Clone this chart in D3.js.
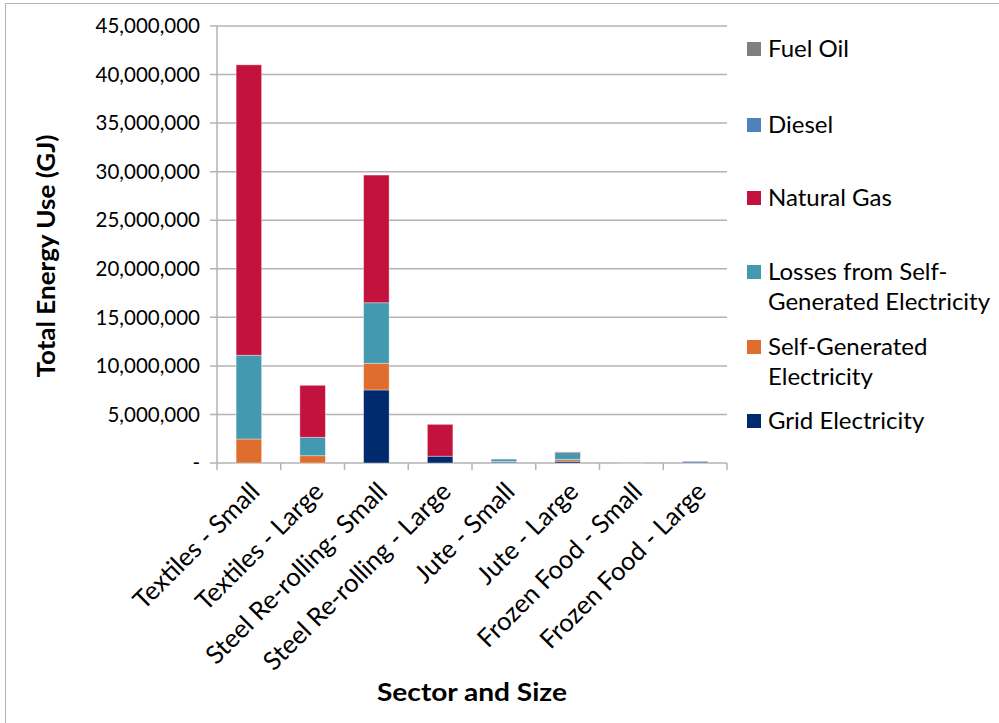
<!DOCTYPE html>
<html>
<head>
<meta charset="utf-8">
<script src="https://cdn.jsdelivr.net/npm/d3@7"></script>
<style>
  html, body { margin: 0; padding: 0; background: #fff; }
  svg { display: block; }
  text { font-family: Lato, "Open Sans", sans-serif; fill: #000; }
</style>
</head>
<body>
<svg id="chart" width="999" height="723"></svg>
<script>
// Categories along the x axis
const categories = [
  "Textiles - Small", "Textiles - Large", "Steel Re-rolling- Small", "Steel Re-rolling - Large",
  "Jute - Small", "Jute - Large", "Frozen Food - Small", "Frozen Food - Large"
];

// Energy use by source (GJ), stacked bottom to top
const gridElectricity   = [0,       0,       7520000, 700000,  100000, 180000, 50000, 100000];
const selfGenerated     = [2470000, 750000,  2750000, 0,       50000,  200000, 0,     0];
const selfGenLosses     = [8630000, 1900000, 6230000, 0,       250000, 700000, 0,     0];
const naturalGas        = [29900000,5350000, 13150000,3280000, 0,      60000,  0,     0];
const diesel            = [0,       0,       0,       0,       0,      0,      20000, 80000];
const fuelOil           = [0,       0,       0,       0,       0,      0,      0,     0];

const seriesNames  = ["Grid Electricity", "Self-Generated Electricity", "Losses from Self-Generated Electricity", "Natural Gas", "Diesel", "Fuel Oil"];
const seriesValues = [gridElectricity, selfGenerated, selfGenLosses, naturalGas, diesel, fuelOil];
const seriesColors = ["#002a6e", "#df6d2e", "#4299b0", "#c3123d", "#4f81bd", "#7f7f7f"];

const yTicks = [0, 5000000, 10000000, 15000000, 20000000, 25000000, 30000000, 35000000, 40000000, 45000000];

const svg = d3.select("#chart");

// outer chart border
svg.append("rect")
  .attr("x", 5.5).attr("y", 3.5).attr("width", 1000).attr("height", 730)
  .attr("fill", "none").attr("stroke", "#b4b4b4").attr("stroke-width", 1);

const plot = { left: 217, right: 727, top: 26, bottom: 463 };

const x = d3.scaleBand().domain(categories).range([plot.left, plot.right]).paddingInner(0.6).paddingOuter(0.3);
const xOuter = d3.scaleBand().domain(categories).range([plot.left, plot.right]);
const y = d3.scaleLinear().domain([0, 45000000]).range([plot.bottom, plot.top]);

// horizontal gridlines
svg.append("g").selectAll("line").data(yTicks).join("line")
  .attr("x1", plot.left - 7).attr("x2", plot.right)
  .attr("y1", d => y(d)).attr("y2", d => y(d))
  .attr("stroke", "#b3b3b3").attr("stroke-width", 1.5);

// y axis line
svg.append("line")
  .attr("x1", plot.left).attr("x2", plot.left)
  .attr("y1", plot.top).attr("y2", plot.bottom)
  .attr("stroke", "#b3b3b3").attr("stroke-width", 1.5);

// category tick marks below the axis
const boundaries = categories.map(c => xOuter(c)).concat([plot.right]);
svg.append("g").selectAll("line").data(boundaries).join("line")
  .attr("x1", d => d).attr("x2", d => d)
  .attr("y1", plot.bottom).attr("y2", plot.bottom + 7)
  .attr("stroke", "#b3b3b3").attr("stroke-width", 1.5);

// y tick labels
const fmt = d3.format(",");
svg.append("g").selectAll("text").data(yTicks).join("text")
  .attr("x", 200).attr("y", d => y(d))
  .attr("dy", "0.35em")
  .attr("text-anchor", "end")
  .style("font-size", "20.5px")
  .text(d => d === 0 ? "-" : fmt(d));

// stacked bars
const rows = categories.map((c, i) => {
  const r = { category: c };
  seriesNames.forEach((s, j) => { r[s] = seriesValues[j][i]; });
  return r;
});
const stacked = d3.stack().keys(seriesNames)(rows);

svg.append("g").selectAll("g").data(stacked).join("g")
  .attr("fill", (d, i) => seriesColors[i])
  .selectAll("rect").data(d => d).join("rect")
  .attr("x", d => x(d.data.category))
  .attr("width", x.bandwidth())
  .attr("y", d => y(d[1]))
  .attr("height", d => Math.max(0, y(d[0]) - y(d[1])))
  .attr("stroke", "rgba(255,255,255,0.45)")
  .attr("stroke-width", 0.8);

// x category labels, rotated
svg.append("g").selectAll("text").data(categories).join("text")
  .attr("transform", c => `translate(${x(c) + x.bandwidth() / 2 + 6},${plot.bottom + 24}) rotate(-45)`)
  .attr("text-anchor", "end")
  .attr("dy", "0.35em")
  .style("font-size", "25.5px")
  .text(c => c);

// axis titles
svg.append("text")
  .attr("transform", `translate(55,256) rotate(-90)`)
  .attr("text-anchor", "middle")
  .attr("textLength", 243).attr("lengthAdjust", "spacingAndGlyphs")
  .style("font-size", "25px").style("font-weight", "bold")
  .text("Total Energy Use (GJ)");

svg.append("text")
  .attr("x", 472).attr("y", 701)
  .attr("text-anchor", "middle")
  .attr("textLength", 190).attr("lengthAdjust", "spacingAndGlyphs")
  .style("font-size", "25px").style("font-weight", "bold")
  .text("Sector and Size");

// legend, top entry is Fuel Oil
const legendItems = [
  { lines: ["Fuel Oil"], y: 49, color: seriesColors[5] },
  { lines: ["Diesel"], y: 125, color: seriesColors[4] },
  { lines: ["Natural Gas"], y: 198, color: seriesColors[3] },
  { lines: ["Losses from Self-", "Generated Electricity"], y: 272, color: seriesColors[2] },
  { lines: ["Self-Generated", "Electricity"], y: 347, color: seriesColors[1] },
  { lines: ["Grid Electricity"], y: 421, color: seriesColors[0] }
];
const lg = svg.append("g").selectAll("g").data(legendItems).join("g");
lg.append("rect")
  .attr("x", 747).attr("y", d => d.y - 7).attr("width", 14).attr("height", 14)
  .attr("fill", d => d.color);
lg.append("text")
  .attr("x", 768).attr("y", d => d.y)
  .style("font-size", "24px")
  .selectAll("tspan").data(d => d.lines).join("tspan")
  .attr("x", 768).attr("dy", (d, i) => i === 0 ? "0.35em" : "30px")
  .text(d => d);
</script>
</body>
</html>
